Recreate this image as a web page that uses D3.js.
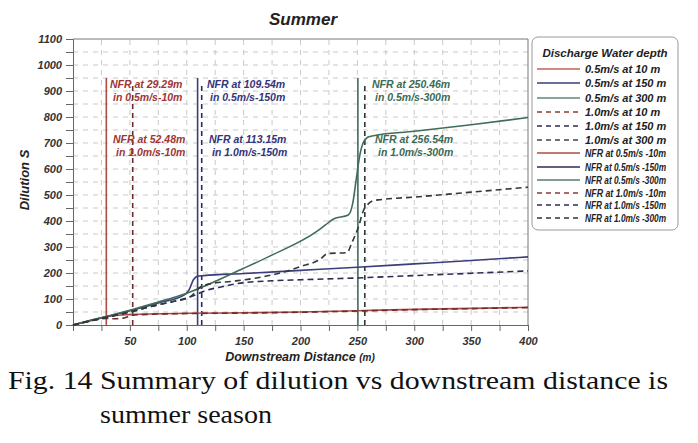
<!DOCTYPE html>
<html><head><meta charset="utf-8">
<script src="https://cdn.jsdelivr.net/npm/d3@7"></script>
<style>body{margin:0;background:#fff}svg{display:block}</style>
</head><body>
<svg id="c" width="698" height="443"></svg>
<script>
// ---- data ----
const xTicks = [0,25,50,75,100,125,150,175,200,225,250,275,300,325,350,375,400];
const yTicks = [0,50,100,150,200,250,300,350,400,450,500,550,600,650,700,750,800,850,900,950,1000,1050,1100];

const dist_05_10  = [0,29,35,50,100,150,200,250,300,350,400];
const dil_05_10   = [0,32,36,40,45,47,50,55,60,64,68];
const dist_10_10  = [0,20,29,35,45,52,60,100,150,200,250,300,350,400];
const dil_10_10   = [0,20,25,24,27,38,40,44,46,49,54,59,63,67];
const dist_05_150 = [0,25,50,75,98,102,106,109.5,115,150,200,250,300,350,400];
const dil_05_150  = [0,27,55,85,116,135,175,188,190,198,210,222,235,248,262];
const dist_10_150 = [0,25,50,75,90,100,108,115,130,150,175,200,250,300,350,400];
const dil_10_150  = [0,25,50,78,92,104,116,130,146,163,170,174,181,190,199,208];
const dist_05_300 = [0,29,50,75,100,150,173,214,222,229,242,246,249,252,255,259,263,300,350,400];
const dil_05_300  = [0,33,57,88,122,218,265,359,385,408,423,470,560,650,700,722,727,745,770,798];
const dist_10_300 = [0,25,50,75,90,100,105,110,115,120,140,160,182,200,217,224,241,245,251,255.5,258,264,270,300,350,400];
const dil_10_300  = [0,25,50,78,92,102,115,140,152,158,168,180,200,225,252,275,278,315,378,442,458,478,482,492,511,530];

const nfrDist  = [29.29, 109.54, 250.46, 52.48, 113.15, 256.54];
const nfrTop   = [950, 950, 950, 935, 935, 935];
const nfrLine1 = ["NFR at 29.29m","NFR at 109.54m","NFR at 250.46m","NFR at 52.48m","NFR at 113.15m","NFR at 256.54m"];
const nfrLine2 = ["in 0.5m/s-10m","in 0.5m/s-150m","in 0.5m/s-300m","in 1.0m/s-10m","in 1.0m/s-150m","in 1.0m/s-300m"];

const legendLabels = ["0.5m/s at 10 m","0.5m/s at 150 m","0.5m/s at 300 m","1.0m/s at 10 m","1.0m/s at 150 m","1.0m/s at 300 m",
  "NFR at 0.5m/s -10m","NFR at 0.5m/s -150m","NFR at 0.5m/s -300m","NFR at 1.0m/s -10m","NFR at 1.0m/s -150m","NFR at 1.0m/s -300m"];

// ---- styles ----
const RED="#b04a44", NAVY="#3a3d7c", GREEN="#3f6d5a";
const DRED="#6e2b2b", DNAVY="#2b2d55", DGREEN="#2f3a36";
const series = [
  {x:dist_05_10, y:dil_05_10, c:RED, dash:null},
  {x:dist_05_150,y:dil_05_150,c:NAVY,dash:null},
  {x:dist_05_300,y:dil_05_300,c:GREEN,dash:null},
  {x:dist_10_10, y:dil_10_10, c:DRED,dash:"6,4"},
  {x:dist_10_150,y:dil_10_150,c:DNAVY,dash:"6,4"},
  {x:dist_10_300,y:dil_10_300,c:DGREEN,dash:"6,4"}
];
const nfrStyle = [
  {c:RED,dash:null,tc:"#9c3634"},{c:NAVY,dash:null,tc:"#33357a"},{c:GREEN,dash:null,tc:"#3b6a55"},
  {c:DRED,dash:"5,4",tc:"#9c3634"},{c:DNAVY,dash:"5,4",tc:"#33357a"},{c:DGREEN,dash:"5,4",tc:"#3b6a55"}
];
const legendStyle = [
  {c:"#c0605a",dash:null},{c:NAVY,dash:null},{c:"#5b8a78",dash:null},
  {c:"#8a3a36",dash:"5,4"},{c:DNAVY,dash:"5,4"},{c:"#444",dash:"5,4"},
  {c:RED,dash:null},{c:DNAVY,dash:null},{c:"#5b7a6e",dash:null},
  {c:"#8a3a36",dash:"5,4"},{c:DNAVY,dash:"5,4"},{c:"#333",dash:"5,4"}
];

const svg = d3.select("#c");
const x = d3.scaleLinear().domain([0,400]).range([73,528]);
const y = d3.scaleLinear().domain([0,1100]).range([325,39]);
const FONT = "'Liberation Sans', Arial, sans-serif";

// grid
const g = svg.append("g");
g.selectAll("line.vg").data(xTicks.filter(d=>d>0&&d<400)).join("line")
  .attr("x1",d=>x(d)).attr("x2",d=>x(d)).attr("y1",y(0)).attr("y2",y(1100))
  .attr("stroke","#c9c9c9").attr("stroke-dasharray","5,5").attr("stroke-width",1);
g.selectAll("line.hg").data(yTicks.filter(d=>d>0&&d<1100)).join("line")
  .attr("x1",x(0)).attr("x2",x(400)).attr("y1",d=>y(d)).attr("y2",d=>y(d))
  .attr("stroke","#c9c9c9").attr("stroke-dasharray","5,5").attr("stroke-width",1);
// frame top/right
svg.append("line").attr("x1",x(0)).attr("x2",x(400)).attr("y1",y(1100)).attr("y2",y(1100)).attr("stroke","#777");
svg.append("line").attr("x1",x(400)).attr("x2",x(400)).attr("y1",y(1100)).attr("y2",y(0)).attr("stroke","#777");

// axes
const ya = svg.append("g").attr("transform",`translate(${x(0)},0)`)
  .call(d3.axisLeft(y).tickValues(yTicks).tickSize(7).tickPadding(4).tickFormat(d=>d%100===0?d:""));
const xa = svg.append("g").attr("transform",`translate(0,${y(0)})`)
  .call(d3.axisBottom(x).tickValues(xTicks).tickSize(6).tickPadding(6).tickFormat(d=>(d%50===0&&d>0)?d:""));
[ya,xa].forEach(a=>{
  a.selectAll("path,line").attr("stroke","#666");
  a.selectAll("text").attr("font-family",FONT).attr("font-weight","bold").attr("font-style","italic")
   .attr("font-size",11).attr("fill","#333");
});

// NFR vertical lines
svg.selectAll("line.nfr").data(nfrDist).join("line")
  .attr("x1",d=>x(d)).attr("x2",d=>x(d)).attr("y1",y(0)).attr("y2",(d,i)=>y(nfrTop[i]))
  .attr("stroke",(d,i)=>nfrStyle[i].c).attr("stroke-width",1.6)
  .attr("stroke-dasharray",(d,i)=>nfrStyle[i].dash);

// curves
const line = d3.line().x(d=>x(d[0])).y(d=>y(d[1])).curve(d3.curveMonotoneX);
series.forEach(s=>{
  svg.append("path").datum(s.x.map((v,i)=>[v,s.y[i]]))
    .attr("d",line).attr("fill","none").attr("stroke",s.c).attr("stroke-width",1.6)
    .attr("stroke-dasharray",s.dash);
});

// NFR annotations
const annX = [110,207,372,113,209,375];
const annY = [88,88,88,143,143,143];
nfrLine1.forEach((t,i)=>{
  const tx = svg.append("text").attr("x",annX[i]).attr("y",annY[i])
    .attr("font-family",FONT).attr("font-weight","bold").attr("font-style","italic")
    .attr("font-size",10.5).attr("fill",nfrStyle[i].tc);
  tx.append("tspan").attr("x",annX[i]).text(t);
  tx.append("tspan").attr("x",annX[i]+3).attr("dy",13).text(nfrLine2[i]);
});

// titles
svg.append("text").attr("x",303).attr("y",25).attr("text-anchor","middle")
  .attr("font-family",FONT).attr("font-weight","bold").attr("font-style","italic").attr("font-size",17)
  .attr("fill","#222").text("Summer");
svg.append("text").attr("transform","translate(29,180) rotate(-90)").attr("text-anchor","middle")
  .attr("font-family",FONT).attr("font-weight","bold").attr("font-style","italic").attr("font-size",13)
  .attr("fill","#222").text("Dilution S");
const xl = svg.append("text").attr("x",300).attr("y",361).attr("text-anchor","middle")
  .attr("font-family",FONT).attr("font-weight","bold").attr("font-style","italic").attr("font-size",12.5).attr("fill","#222");
xl.append("tspan").text("Downstream Distance ");
xl.append("tspan").attr("font-size",10).text("(m)");

// legend
const lg = svg.append("g");
lg.append("rect").attr("x",532).attr("y",37).attr("width",146).attr("height",193).attr("rx",6)
  .attr("fill","#fff").attr("stroke","#999").attr("stroke-width",1);
lg.append("text").attr("x",605).attr("y",57).attr("text-anchor","middle")
  .attr("font-family",FONT).attr("font-weight","bold").attr("font-style","italic").attr("font-size",11.5)
  .attr("fill","#222").text("Discharge Water depth");
const rowY = [69,83,98,112,126,140,153,167,180,193,205,218];
legendLabels.forEach((t,i)=>{
  lg.append("line").attr("x1",537).attr("x2",580).attr("y1",rowY[i]).attr("y2",rowY[i])
    .attr("stroke",legendStyle[i].c).attr("stroke-width",1.5).attr("stroke-dasharray",legendStyle[i].dash);
  const tt = lg.append("text").attr("x",585).attr("y",rowY[i]+4)
    .attr("font-family",FONT).attr("font-weight","bold").attr("font-style","italic")
    .attr("font-size", i<6?11:10).attr("fill","#222").text(t);
  if(i>=6) tt.attr("textLength",81).attr("lengthAdjust","spacingAndGlyphs");
});

// caption
const CF = "'Liberation Serif','Times New Roman',serif";
svg.append("text").attr("x",8).attr("y",389).attr("font-family",CF).attr("font-size",26)
  .attr("fill","#111").attr("textLength",660).attr("lengthAdjust","spacingAndGlyphs")
  .text("Fig. 14 Summary of dilution vs downstream distance is");
svg.append("text").attr("x",100).attr("y",423).attr("font-family",CF).attr("font-size",26)
  .attr("fill","#111").attr("textLength",172).attr("lengthAdjust","spacingAndGlyphs")
  .text("summer season");
</script>
</body></html>
